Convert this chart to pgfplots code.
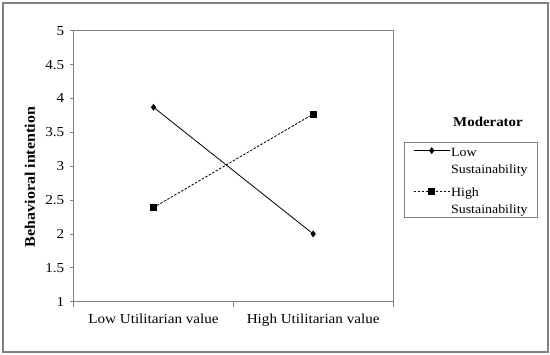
\documentclass[border=0pt]{standalone}
\usepackage{fontspec}
\setmainfont[FakeStretch=1.1]{Liberation Serif}
\usepackage{pgfplots}
\pgfplotsset{compat=1.18}

\definecolor{framegray}{HTML}{808080}

\begin{document}
\begin{tikzpicture}
% page size / outer frame
\path (-73.7bp,-53.3bp) rectangle (476.3bp,301.7bp);
\draw[framegray, line width=1.2bp] (-70.7bp,-50.3bp) rectangle (474.3bp,298.7bp);
\begin{axis}[
    at={(0,0)}, anchor=south west,
    scale only axis,
    width=319.3bp, height=271bp,
    xmin=0, xmax=2, ymin=1, ymax=5,
    xtick={0.5,1.5},
    xticklabels={Low Utilitarian value, High Utilitarian value},
    major x tick style={draw=none},
    minor xtick={0,1,2},
    ytick={1,1.5,...,5},
    xtick pos=bottom, ytick pos=left,
    tick align=outside,
    major tick length=4bp, minor tick length=5bp,
    tick style={framegray, line width=0.8bp},
    axis line style={framegray, line width=0.8bp},
    /pgf/number format/assume math mode=true,
    tick label style={font=\fontsize{13.8}{16}\selectfont},
    yticklabel style={/pgf/number format/fixed, xshift=-2bp},
    xticklabel style={yshift=-5bp},
    ylabel={\textbf{Behavioral intention}},
    ylabel style={at={(axis description cs:-0.137,0.46)}, anchor=center, font=\fontsize{14.6}{17}\selectfont},
    legend style={at={(axis description cs:1.0345,0.5904)}, anchor=north west,
        draw=framegray, line width=0.6bp,
        font=\fontsize{12.7}{17}\selectfont,
        nodes={inner sep=1bp},
        row sep=8bp, inner xsep=9bp, inner ysep=1.5bp},
    legend cell align=left,
    legend image code/.code={
        \draw[#1] (0bp,9bp) -- (18bp,9bp);
        \draw[#1] (18bp,9bp) -- (36bp,9bp);
        \draw[#1, only marks] plot coordinates {(18bp,9bp)};
    },
]
\addplot[black, line width=0.8bp, mark=diamond*, mark size=2.8bp, mark options={solid}]
    coordinates {(0.5,3.87) (1.5,2.00)};
\addlegendentry{\begin{tabular}[b]{@{}l@{}}Low\\Sustainability\end{tabular}}
\addplot[black, line width=0.8bp, dash pattern=on 2.5bp off 1.5bp, mark=square*, mark size=3bp, mark options={solid}]
    coordinates {(0.5,2.39) (1.5,3.77)};
\addlegendentry{\begin{tabular}[b]{@{}l@{}}High\\Sustainability\end{tabular}}
\end{axis}
\node[font=\fontsize{13.6}{16}\selectfont\bfseries] at (414.3bp,180bp) {Moderator};
\end{tikzpicture}
\end{document}
